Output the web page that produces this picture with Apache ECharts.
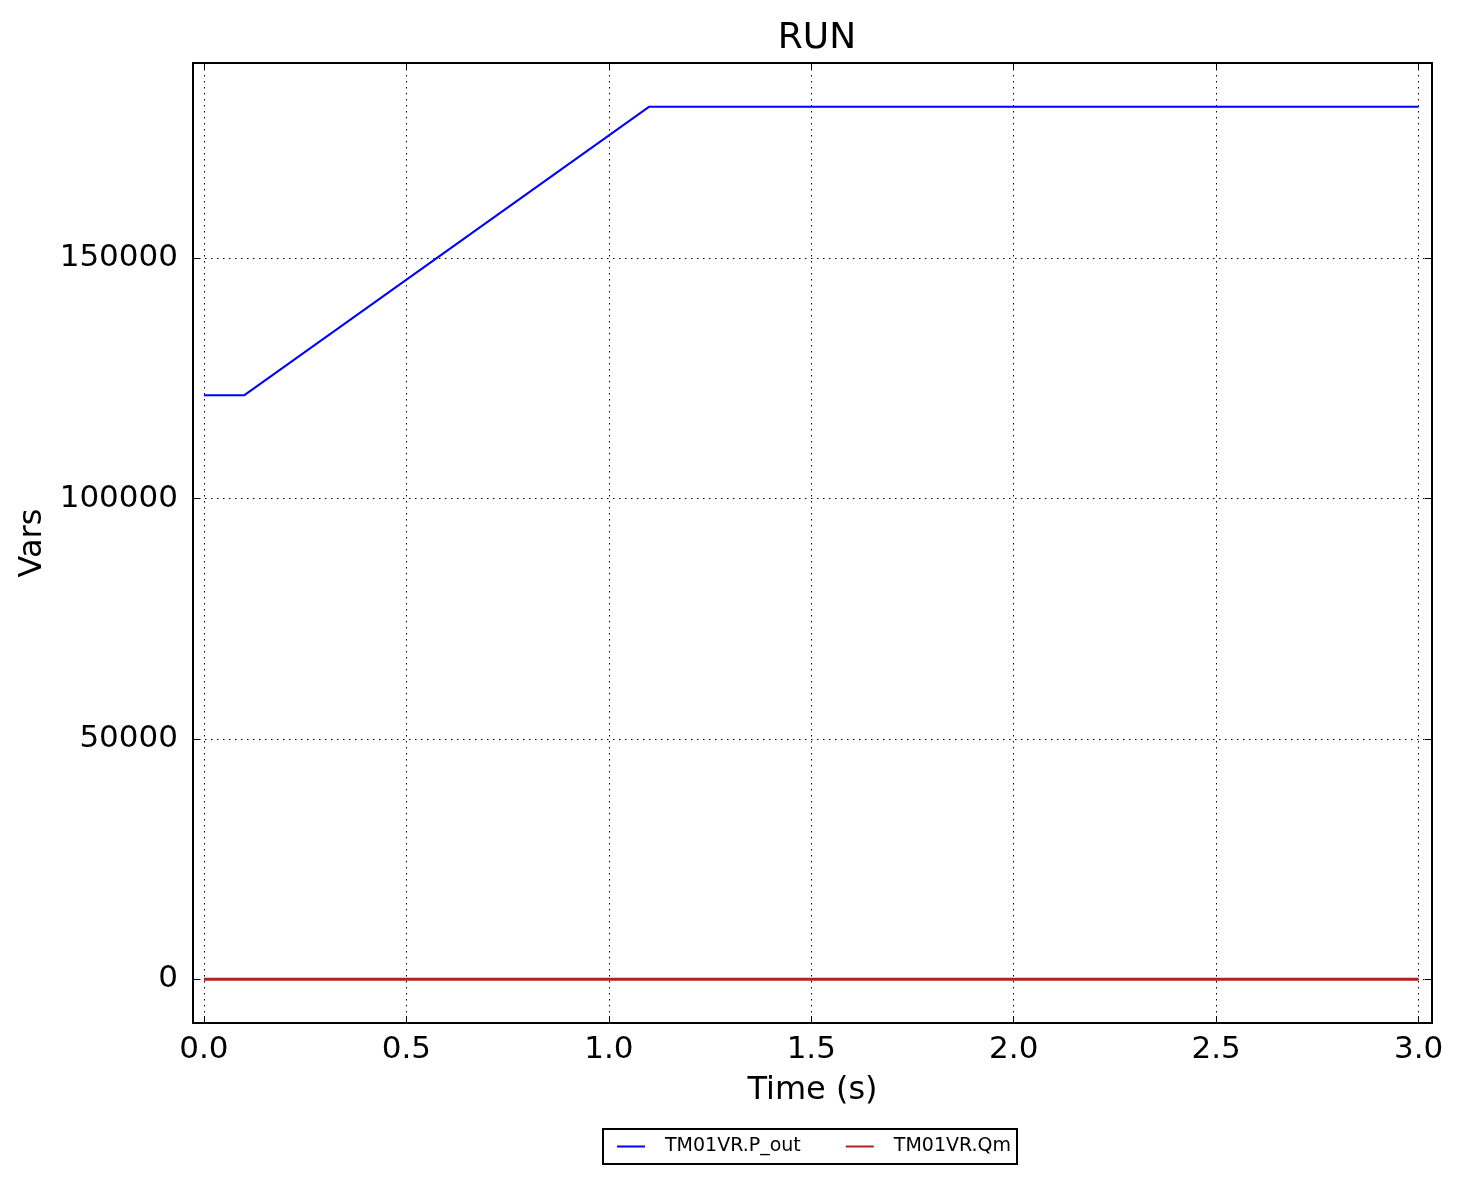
<!DOCTYPE html>
<html>
<head>
<meta charset="utf-8">
<script src="https://cdn.jsdelivr.net/npm/echarts@6/dist/echarts.min.js"></script>
<style>html,body{margin:0;padding:0;background:#fff}#c{width:1463px;height:1184px}</style>
</head>
<body>
<div id="c"></div>
<script>
const timeValues = [0.0, 0.1, 1.1, 3.0];
const pOut = [121500, 121500, 181500, 181500];
const qm = [0, 0, 0, 0];
const xTicks = [0, 0.5, 1.0, 1.5, 2.0, 2.5, 3.0];
const yTicks = [0, 50000, 100000, 150000];
const seriesNames = ['TM01VR.P_out', 'TM01VR.Qm'];

const FONT = 'DejaVu Sans';
const chart = echarts.init(document.getElementById('c'), null, {renderer: 'canvas'});
const grid = {left: 193, right: 31, top: 63, bottom: 161, outerBoundsMode: 'none', containLabel: false};
const tick = {show: true, inside: true, length: 7, lineStyle: {color: '#000', width: 1}};
const split = {show: true, lineStyle: {color: '#000', width: 1, type: [1.5, 4.5]}};

function xAxis(pos, main) {
  return {
    type: 'value', position: pos, min: -0.027, max: 3.033,
    name: main ? 'Time (s)' : '', nameLocation: 'middle', nameGap: 52,
    nameTextStyle: {fontFamily: FONT, fontSize: 32, color: '#000'},
    axisLine: {show: true, onZero: false, lineStyle: {color: '#000', width: 2}},
    axisTick: Object.assign({customValues: xTicks}, tick),
    axisLabel: {show: main, customValues: xTicks, fontFamily: FONT, fontSize: 31, color: '#000', margin: 11,
      formatter: v => v.toFixed(1)},
    splitLine: Object.assign({show: main}, main ? split : {})
  };
}
function yAxis(pos, main) {
  return {
    type: 'value', position: pos, min: -9075, max: 190575,
    name: main ? 'Vars' : '', nameLocation: 'middle', nameGap: 143,
    nameTextStyle: {fontFamily: FONT, fontSize: 32, color: '#000'},
    axisLine: {show: true, onZero: false, lineStyle: {color: '#000', width: 2}},
    axisTick: Object.assign({customValues: yTicks}, tick),
    axisLabel: {show: main, customValues: yTicks, fontFamily: FONT, fontSize: 31, color: '#000', margin: 15,
      formatter: v => String(v)},
    splitLine: Object.assign({show: main}, main ? split : {})
  };
}

chart.setOption({
  animation: false,
  backgroundColor: '#fff',
  title: {text: 'RUN', left: 812, textAlign: 'center', top: 16,
    textStyle: {fontFamily: FONT, fontSize: 36, fontWeight: 'normal', color: '#000'}},
  grid: grid,
  legend: {
    data: seriesNames, top: 1129, left: 603,
    orient: 'horizontal',
    icon: 'rect', itemWidth: 28, itemHeight: 2,
    itemGap: 45,
    borderColor: '#000', borderWidth: 2, borderRadius: 0,
    padding: [8, 6, 8, 14],
    textStyle: {fontFamily: FONT, fontSize: 19, color: '#000', padding: [0, 0, 0, 15]}
  },
  xAxis: [xAxis('bottom', true), xAxis('top', false)],
  yAxis: [yAxis('left', true), yAxis('right', false)],
  series: [
    {name: seriesNames[0], type: 'line', data: timeValues.map((t, i) => [t, pOut[i]]),
      showSymbol: false, symbol: 'none', lineStyle: {color: '#0000ff', width: 2}, itemStyle: {color: '#0000ff'}, z: 3},
    {name: seriesNames[1], type: 'line', data: timeValues.map((t, i) => [t, qm[i]]),
      showSymbol: false, symbol: 'none', lineStyle: {color: '#b22222', width: 3}, itemStyle: {color: '#b22222'}, z: 2}
  ]
});
</script>
</body>
</html>
